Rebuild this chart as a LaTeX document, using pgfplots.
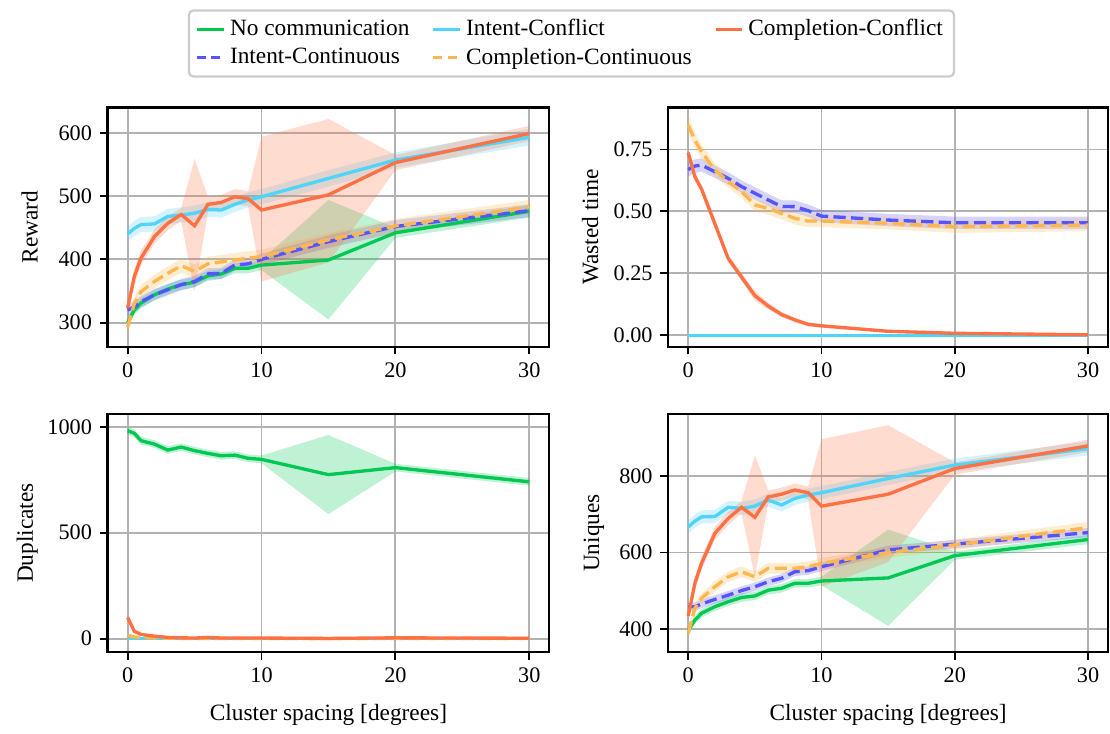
\documentclass[border=0pt]{standalone}
\usepackage{fontspec}
\setmainfont{Liberation Serif}
\usepackage{pgfplots}
\usepackage{pgfplotstable}
\pgfplotsset{compat=1.18}
\usepgfplotslibrary{fillbetween}

\definecolor{cNone}{RGB}{0,200,83}
\definecolor{cIntConf}{RGB}{80,212,250}
\definecolor{cCompConf}{RGB}{255,112,67}
\definecolor{cIntCont}{RGB}{85,85,255}
\definecolor{cCompCont}{RGB}{255,183,77}

% n = no communication, a = intent-conflict, b = intent-continuous,
% c = completion-conflict, d = completion-continuous (mean, lower, upper)
\pgfplotstableread{
x    n   nlo nhi  b   blo bhi  a   alo ahi  d   dlo dhi  c   clo chi
0    300 292 308  320 311 329  440 428 452  293 282 304  323 313 333
0.5  320 312 328  325 316 334  449 437 461  330 319 341  373 360 386
1    331 323 339  333 324 342  455 443 467  349 338 360  402 390 414
2    344 336 352  344 335 353  456 444 468  365 354 376  436 425 447
3    353 345 361  352 343 361  468 456 480  378 367 389  457 446 468
4    360 352 368  360 351 369  470 458 482  390 379 401  471 461 481
5    364 356 372  365 356 374  473 461 485  381 370 392  453 349 559
6    374 366 382  377 368 386  479 467 491  393 382 404  487 475 499
7    377 369 385  378 369 387  478 466 490  396 385 407  490 478 502
8    386 378 394  391 382 400  487 475 499  399 388 410  499 487 511
9    386 378 394  393 384 402  494 482 506  402 391 413  496 484 508
10   391 383 399  400 391 409  499 487 511  404 393 415  478 365 594
15   399 305 494  428 418 438  528 515 541  431 420 442  502 395 622
20   442 434 450  452 442 462  557 545 569  453 442 464  553 541 565
30   476 466 486  477 467 487  593 580 606  483 472 494  599 587 611
}\rew

\pgfplotstableread{
x    n  b     blo   bhi   a  d     dlo   dhi   c     clo   chi
0    0  0.669 0.640 0.700 0  0.848 0.810 0.890 0.737 0.725 0.750
0.5  0  0.683 0.655 0.710 0  0.788 0.755 0.820 0.640 0.625 0.655
1    0  0.687 0.660 0.714 0  0.740 0.710 0.770 0.590 0.575 0.605
2    0  0.660 0.635 0.685 0  0.667 0.640 0.695 0.450 0.435 0.465
3    0  0.633 0.608 0.658 0  0.620 0.595 0.645 0.310 0.295 0.325
4    0  0.600 0.575 0.625 0  0.580 0.555 0.605 0.235 0.220 0.250
5    0  0.573 0.548 0.598 0  0.526 0.500 0.550 0.160 0.140 0.180
6    0  0.546 0.521 0.571 0  0.512 0.487 0.537 0.118 0.105 0.131
7    0  0.520 0.495 0.545 0  0.492 0.467 0.517 0.084 0.073 0.095
8    0  0.519 0.494 0.544 0  0.472 0.447 0.497 0.062 0.053 0.071
9    0  0.503 0.478 0.528 0  0.461 0.436 0.486 0.044 0.036 0.052
10   0  0.481 0.456 0.506 0  0.461 0.436 0.486 0.038 0.031 0.045
15   0  0.465 0.440 0.490 0  0.452 0.427 0.477 0.016 0.011 0.021
20   0  0.454 0.429 0.479 0  0.438 0.413 0.463 0.008 0.004 0.012
30   0  0.454 0.429 0.479 0  0.445 0.420 0.470 0.002 0.000 0.004
}\was

\pgfplotstableread{
x    n   nlo nhi   b  a  d   dlo dhi  c   clo chi
0    981 963 999   0  0  15  5   25   100 88  112
0.5  969 951 987   0  0  8   3   13   35  28  42
1    934 916 952   0  0  5   2   8    20  15  25
2    918 900 936   0  0  3   1   5    12  8   16
3    890 872 908   0  0  2   0   4    6   3   9
4    904 886 922   0  0  1   0   2    4   1   7
5    887 869 905   0  0  1   0   2    3   0   6
6    874 856 892   0  0  1   0   2    6   0   14
7    863 845 881   0  0  1   0   2    3   0   6
8    866 848 884   0  0  1   0   2    3   0   6
9    851 833 869   0  0  1   0   2    3   0   6
10   846 828 864   0  0  1   0   2    3   0   6
15   774 588 961   0  0  1   0   2    1   0   3
20   807 789 825   0  0  1   0   2    4   1   7
30   740 722 758   0  0  1   0   2    2   0   4
}\dup

\pgfplotstableread{
x    n   nlo nhi  b   blo bhi  a   alo ahi  d   dlo dhi  c   clo chi
0    398 388 408  459 448 470  667 650 684  390 378 402  435 420 450
0.5  424 413 435  459 448 470  682 665 699  455 441 469  520 503 537
1    442 431 453  466 455 477  693 676 710  481 467 495  572 555 589
2    459 448 470  478 467 489  694 677 711  511 497 525  650 633 667
3    472 461 483  489 478 500  718 701 735  537 523 551  689 672 706
4    483 472 494  501 490 512  715 698 732  550 536 564  718 702 734
5    487 476 498  511 500 522  721 704 738  537 523 551  692 537 854
6    502 491 513  524 513 535  737 720 754  559 545 573  745 728 762
7    507 496 518  533 522 544  724 707 741  559 545 573  752 735 769
8    520 509 531  550 539 561  741 724 758  559 545 573  763 746 780
9    520 509 531  553 542 564  750 733 767  563 549 577  756 739 773
10   526 515 537  563 552 574  756 739 773  572 558 586  721 511 895
15   534 409 660  607 596 618  793 776 810  600 586 614  752 575 932
20   592 581 603  622 611 633  828 811 845  620 606 634  819 803 835
30   634 622 646  652 640 664  871 853 889  665 650 680  878 862 894
}\uni

% #1 table, #2 prefix for path names, #3 series column, #4 colour
\newcommand{\band}[4]{%
  \addplot[draw=none, forget plot, name path=#2#3u] table[x=x, y=#3hi] {#1};
  \addplot[draw=none, forget plot, name path=#2#3l] table[x=x, y=#3lo] {#1};
  \addplot[fill=#4, fill opacity=0.25, draw=none, forget plot] fill between[of=#2#3u and #2#3l];
}
\newcommand{\mean}[3]{%
  \addplot[#3, line width=1.5pt, forget plot] table[x=x, y=#2] {#1};
}

\pgfplotsset{
  panel/.style={
    scale only axis, anchor=north west,
    xmin=-1.5, xmax=31.5, xtick={0,10,20,30},
    grid=major, grid style={line width=0.8pt, draw=black!30},
    axis line style={line width=1pt},
    tick align=outside, tick pos=left, major tick length=3.5pt,
    every tick/.style={black, line width=0.8pt},
    tick label style={font=\fontsize{10}{12}\selectfont},
    label style={font=\fontsize{10.5}{12}\selectfont},
    xlabel style={yshift=-3pt},
    /pgf/number format/assume math mode=true,
    /pgf/number format/1000 sep={},
  },
  leftpanel/.style={ylabel style={at={(axis description cs:-0.14,0.5)}, anchor=south}},
  dash/.style={dash pattern=on 5.5pt off 2.4pt},
}

\begin{document}
\begin{tikzpicture}
\path (0,0) rectangle (499.5pt,-326.25pt);

% Reward
\begin{axis}[panel, leftpanel, at={(48.4pt,-48.4pt)}, width=198.8pt, height=107.6pt,
  ymin=262, ymax=640, ytick={300,400,500,600}, ylabel={Reward},
  legend columns=3, legend cell align=left,
  legend style={at={(1.05,1.268)}, anchor=center, draw=black!20, line width=1pt,
    rounded corners=2pt, font=\fontsize{10.5}{12}\selectfont,
    /tikz/every even column/.append style={column sep=8pt}},
  legend image code/.code={\draw[#1] (0pt,0pt) -- (12pt,0pt);}]
\band{\rew}{r}{n}{cNone}\mean{\rew}{n}{cNone}
\band{\rew}{r}{b}{cIntCont}\mean{\rew}{b}{cIntCont, dash}
\band{\rew}{r}{a}{cIntConf}\mean{\rew}{a}{cIntConf}
\band{\rew}{r}{d}{cCompCont}\mean{\rew}{d}{cCompCont, dash}
\band{\rew}{r}{c}{cCompConf}\mean{\rew}{c}{cCompConf}
\addlegendimage{cNone, line width=1.5pt}\addlegendentry{No communication}
\addlegendimage{cIntConf, line width=1.5pt}\addlegendentry{Intent-Conflict}
\addlegendimage{cCompConf, line width=1.5pt}\addlegendentry{Completion-Conflict}
\addlegendimage{cIntCont, line width=1.5pt, dash pattern=on 4pt off 2.4pt}\addlegendentry{Intent-Continuous}
\addlegendimage{cCompCont, line width=1.5pt, dash pattern=on 4pt off 2.4pt}\addlegendentry{Completion-Continuous}
\end{axis}

% Wasted time
\begin{axis}[panel, at={(300.7pt,-48.4pt)}, width=197.9pt, height=107.6pt,
  ymin=-0.046, ymax=0.919, ytick={0,0.25,0.5,0.75}, ylabel={Wasted time},
  yticklabel style={/pgf/number format/.cd, fixed, fixed zerofill, precision=2}]
\mean{\was}{n}{cNone}
\band{\was}{w}{b}{cIntCont}\mean{\was}{b}{cIntCont, dash}
\mean{\was}{a}{cIntConf}
\band{\was}{w}{d}{cCompCont}\mean{\was}{d}{cCompCont, dash}
\band{\was}{w}{c}{cCompConf}\mean{\was}{c}{cCompConf}
\end{axis}

% Duplicates
\begin{axis}[panel, leftpanel, at={(48.4pt,-186.3pt)}, width=198.8pt, height=107.1pt,
  ymin=-63, ymax=1060, ytick={0,500,1000}, ylabel={Duplicates},
  xlabel={Cluster spacing [degrees]}]
\band{\dup}{d}{n}{cNone}\mean{\dup}{n}{cNone}
\mean{\dup}{b}{cIntCont, dash}
\mean{\dup}{a}{cIntConf}
\band{\dup}{d}{d}{cCompCont}\mean{\dup}{d}{cCompCont, dash}
\band{\dup}{d}{c}{cCompConf}\mean{\dup}{c}{cCompConf}
\end{axis}

% Uniques
\begin{axis}[panel, at={(300.7pt,-186.3pt)}, width=197.9pt, height=107.1pt,
  ymin=341, ymax=961, ytick={400,600,800}, ylabel={Uniques},
  xlabel={Cluster spacing [degrees]}]
\band{\uni}{u}{n}{cNone}\mean{\uni}{n}{cNone}
\band{\uni}{u}{b}{cIntCont}\mean{\uni}{b}{cIntCont, dash}
\band{\uni}{u}{a}{cIntConf}\mean{\uni}{a}{cIntConf}
\band{\uni}{u}{d}{cCompCont}\mean{\uni}{d}{cCompCont, dash}
\band{\uni}{u}{c}{cCompConf}\mean{\uni}{c}{cCompConf}
\end{axis}
\end{tikzpicture}
\end{document}
